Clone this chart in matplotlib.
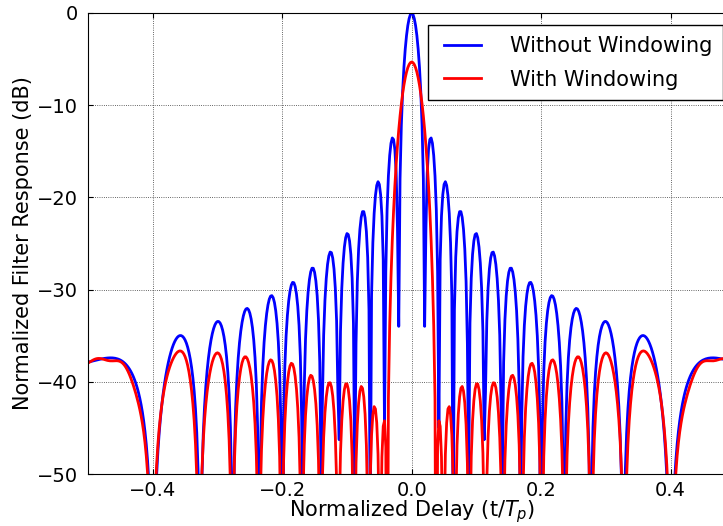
import numpy as np
import matplotlib
matplotlib.use("Agg")
import matplotlib.pyplot as plt

# LFM pulse, delay normalised to the pulse width Tp
time_bandwidth = 50      # B * Tp
n_samples = 500          # samples across one pulse
window_name = "hamming"  # weighting applied across the chirp band

x_limits = (-0.5, 0.5)
y_limits = (-50, 0)
x_ticks = [-0.4, -0.2, 0.0, 0.2, 0.4]
y_ticks = [-50, -40, -30, -20, -10, 0]
series_labels = ["Without Windowing", "With Windowing"]
series_colors = ["blue", "red"]


def lfm_chirp(n, tb):
    t = (np.arange(n) - (n - 1) / 2) / n
    return np.exp(1j * np.pi * tb * t ** 2)


def band_window(n, tb, name):
    # frequency weighting over |f| <= B/2, zero outside (fft bin order)
    nfft = 2 * n
    if name is None:
        return np.ones(nfft)
    f = np.fft.fftshift(np.fft.fftfreq(nfft, d=1.0 / n))
    w = np.zeros(nfft)
    in_band = np.abs(f) <= tb / 2
    w[in_band] = getattr(np, name)(in_band.sum())
    return np.fft.ifftshift(w)


def matched_filter_db(pulse, weight):
    n = len(pulse)
    spec = np.fft.fft(pulse, 2 * n)
    out = np.fft.fftshift(np.fft.ifft(np.abs(spec) ** 2 * weight))
    lags = np.arange(-n, n) / n
    return lags, 20 * np.log10(np.abs(out) / n + 1e-12)


pulse = lfm_chirp(n_samples, time_bandwidth)
weights = [band_window(n_samples, time_bandwidth, None),
           band_window(n_samples, time_bandwidth, window_name)]

fig = plt.figure(figsize=(7.23, 5.26), dpi=100)
ax = fig.add_axes([88 / 723, 52 / 526, 647.4 / 723, 461 / 526])

for weight, label, color in zip(weights, series_labels, series_colors):
    delay, resp = matched_filter_db(pulse, weight)
    ax.plot(delay, resp, color=color, lw=2, label=label)

ax.set_xlim(*x_limits)
ax.set_ylim(*y_limits)
ax.set_xticks(x_ticks)
ax.set_yticks(y_ticks)
ax.tick_params(direction="in", top=True, right=True, labelsize=14, pad=7)
ax.tick_params(axis="x", pad=5)
ax.grid(True, color="black", linestyle=":", linewidth=0.6, alpha=0.8)
ax.set_xlabel(r"Normalized Delay (t/$T_p$)", fontsize=15, labelpad=-1)
ax.set_ylabel("Normalized Filter Response (dB)", fontsize=15, labelpad=3)

leg = ax.legend(loc="upper right", borderaxespad=0.6, numpoints=2,
                fancybox=False, fontsize=15, handlelength=2.35, handletextpad=1.1,
                borderpad=0.5, labelspacing=0.66, framealpha=1)
leg.get_frame().set_edgecolor("black")
leg.get_frame().set_linewidth(1.0)

fig.savefig("out.png", dpi=100)
